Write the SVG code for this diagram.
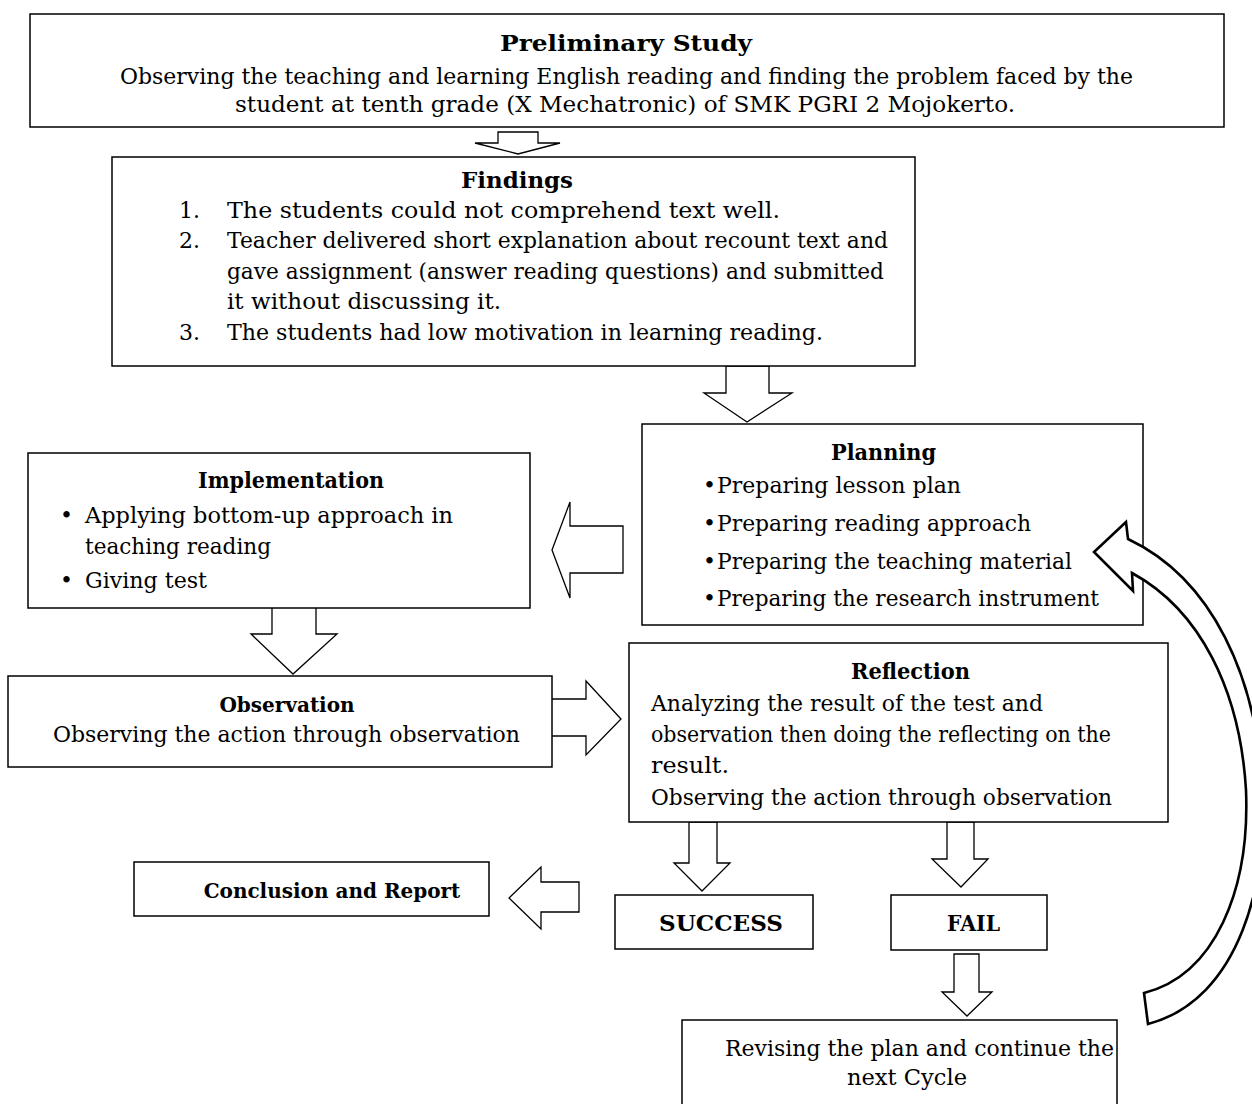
<svg xmlns="http://www.w3.org/2000/svg" width="1252" height="1104" viewBox="0 0 1252 1104">
<style>
.box{fill:#fff;stroke:#000;stroke-width:1.5}
.arr{fill:#fff;stroke:#000;stroke-width:1.3;stroke-linejoin:miter}
.curve{fill:#fff;stroke:#000;stroke-width:2.6;stroke-linejoin:miter}
text{font-family:"DejaVu Serif","Liberation Serif",serif;font-size:22px;fill:#000}
.b{font-weight:bold}
.s{font-size:20px;text-anchor:middle}
</style>
<rect width="1252" height="1104" fill="#fff"/>
<g id="connectors">
<polygon class="arr" points="498,132 538,132 538,143 560,143 518,154 475,143 498,143"/>
<polygon class="arr" points="726,366 769,366 769,393 792,393 747,422 704,393 726,393"/>
<polygon class="arr" points="623,526 623,573 570,573 570,598 552,550 570,502 570,526"/>
<polygon class="arr" points="272,594 316,594 316,634 337,634 293,674 251,634 272,634"/>
<polygon class="arr" points="551,699 586,699 586,681 621,719 586,755 586,736 551,736"/>
<polygon class="arr" points="689,822 717,822 717,863 730,863 702,891 674,863 689,863"/>
<polygon class="arr" points="947,822 974,822 974,859 988,859 961,887 932,859 947,859"/>
<polygon class="arr" points="579,882 579,912 541,912 541,929 509,898 541,867 541,882"/>
<polygon class="arr" points="954,954 979,954 979,992 992,992 967,1016 942,992 954,992"/>
</g>
<g id="preliminary">
<rect class="box" x="30" y="14" width="1194" height="113"/>
<text class="b" x="500" y="51" textLength="252" lengthAdjust="spacingAndGlyphs">Preliminary Study</text>
<text x="120" y="84" textLength="1013" lengthAdjust="spacingAndGlyphs">Observing the teaching and learning English reading and finding the problem faced by the</text>
<text x="235" y="112" textLength="780" lengthAdjust="spacingAndGlyphs">student at tenth grade (X Mechatronic) of SMK PGRI 2 Mojokerto.</text>
</g>
<g id="findings">
<rect class="box" x="112" y="157" width="803" height="209"/>
<text class="b" x="461" y="188" textLength="112" lengthAdjust="spacingAndGlyphs">Findings</text>
<text x="179" y="218">1.</text>
<text x="227" y="218" textLength="553" lengthAdjust="spacingAndGlyphs">The students could not comprehend text well.</text>
<text x="179" y="248">2.</text>
<text x="227" y="248" textLength="661" lengthAdjust="spacingAndGlyphs">Teacher delivered short explanation about recount text and</text>
<text x="227" y="279" textLength="657" lengthAdjust="spacingAndGlyphs">gave assignment (answer reading questions) and submitted</text>
<text x="227" y="309" textLength="274" lengthAdjust="spacingAndGlyphs">it without discussing it.</text>
<text x="179" y="340">3.</text>
<text x="227" y="340" textLength="596" lengthAdjust="spacingAndGlyphs">The students had low motivation in learning reading.</text>
</g>
<g id="planning">
<rect class="box" x="642" y="424" width="501" height="201"/>
<text class="b" x="831" y="460" textLength="105" lengthAdjust="spacingAndGlyphs">Planning</text>
<text x="703" y="493">•</text>
<text x="717" y="493" textLength="244" lengthAdjust="spacingAndGlyphs">Preparing lesson plan</text>
<text x="703" y="531">•</text>
<text x="717" y="531" textLength="314" lengthAdjust="spacingAndGlyphs">Preparing reading approach</text>
<text x="703" y="569">•</text>
<text x="717" y="569" textLength="355" lengthAdjust="spacingAndGlyphs">Preparing the teaching material</text>
<text x="703" y="606">•</text>
<text x="717" y="606" textLength="382" lengthAdjust="spacingAndGlyphs">Preparing the research instrument</text>
</g>
<g id="implementation">
<rect class="box" x="28" y="453" width="502" height="155"/>
<text class="b" x="198" y="488" textLength="186" lengthAdjust="spacingAndGlyphs">Implementation</text>
<text x="60" y="523">•</text>
<text x="85" y="523" textLength="368" lengthAdjust="spacingAndGlyphs">Applying bottom-up approach in</text>
<text x="85" y="554" textLength="186" lengthAdjust="spacingAndGlyphs">teaching reading</text>
<text x="60" y="588">•</text>
<text x="85" y="588" textLength="122" lengthAdjust="spacingAndGlyphs">Giving test</text>
</g>
<g id="observation">
<rect class="box" x="8" y="676" width="544" height="91"/>
<text class="b s" x="287" y="712">Observation</text>
<text x="53" y="742" textLength="467" lengthAdjust="spacingAndGlyphs">Observing the action through observation</text>
</g>
<g id="reflection">
<rect class="box" x="629" y="643" width="539" height="179"/>
<text class="b" x="851" y="679" textLength="119" lengthAdjust="spacingAndGlyphs">Reflection</text>
<text x="651" y="711" textLength="392" lengthAdjust="spacingAndGlyphs">Analyzing the result of the test and</text>
<text x="651" y="742" textLength="460" lengthAdjust="spacingAndGlyphs">observation then doing the reflecting on the</text>
<text x="651" y="773" textLength="78" lengthAdjust="spacingAndGlyphs">result.</text>
<text x="651" y="805" textLength="461" lengthAdjust="spacingAndGlyphs">Observing the action through observation</text>
</g>
<g id="conclusion">
<rect class="box" x="134" y="862" width="355" height="54"/>
<text class="b s" x="332" y="898">Conclusion and Report</text>
</g>
<g id="success">
<rect class="box" x="615" y="895" width="198" height="54"/>
<text class="b" x="659" y="931" textLength="124" lengthAdjust="spacingAndGlyphs">SUCCESS</text>
</g>
<g id="fail">
<rect class="box" x="891" y="895" width="156" height="55"/>
<text class="b" x="947" y="931" textLength="53" lengthAdjust="spacingAndGlyphs">FAIL</text>
</g>
<g id="revise">
<rect class="box" x="682" y="1020" width="435" height="100"/>
<text x="725" y="1056" textLength="389" lengthAdjust="spacingAndGlyphs">Revising the plan and continue the</text>
<text x="847" y="1085" textLength="120" lengthAdjust="spacingAndGlyphs">next Cycle</text>
</g>
<g id="loop-arrow">
<path class="curve" d="M1148,1024 C1240,1000 1270,880 1262,780 C1255,680 1215,580 1128,539 L1126,522 L1094,552 L1133,591 L1132,573 C1200,610 1240,690 1246,790 C1250,890 1215,975 1144,993 Z"/>
</g>
</svg>
